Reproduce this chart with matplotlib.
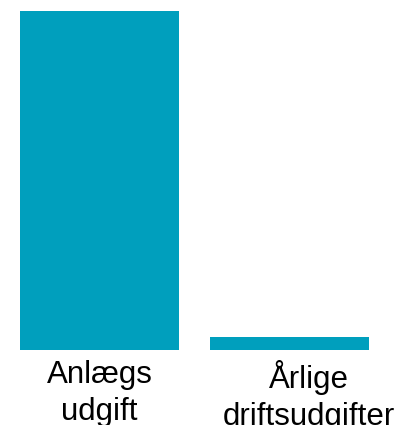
import matplotlib.pyplot as plt
from matplotlib.transforms import offset_copy

kategorier = ["Anlægs\nudgift", "Årlige\ndriftsudgifter"]
vaerdier = [1000, 38]
farve = "#009FBD"

fig = plt.figure(figsize=(4, 4.25), dpi=100)
ax = fig.add_axes([0, 75 / 425, 1, 339 / 425])

x = [0, 1]
ax.bar(x, vaerdier, width=0.837, color=farve)
ax.set_xlim(-99.5 / 190, 300.5 / 190)
ax.set_ylim(0, vaerdier[0])
ax.axis("off")

# labels under bars, second one sits a bit to the right like the original
forskyd = [0, 19]
for i, navn in enumerate(kategorier):
    tr = offset_copy(ax.get_xaxis_transform(), fig=fig, x=forskyd[i], y=-10, units="dots")
    ax.text(x[i], 0, navn, transform=tr, ha="center", va="top",
            fontsize=22.5, family="Liberation Sans", linespacing=1.32, color="black")

fig.savefig("out.png")
